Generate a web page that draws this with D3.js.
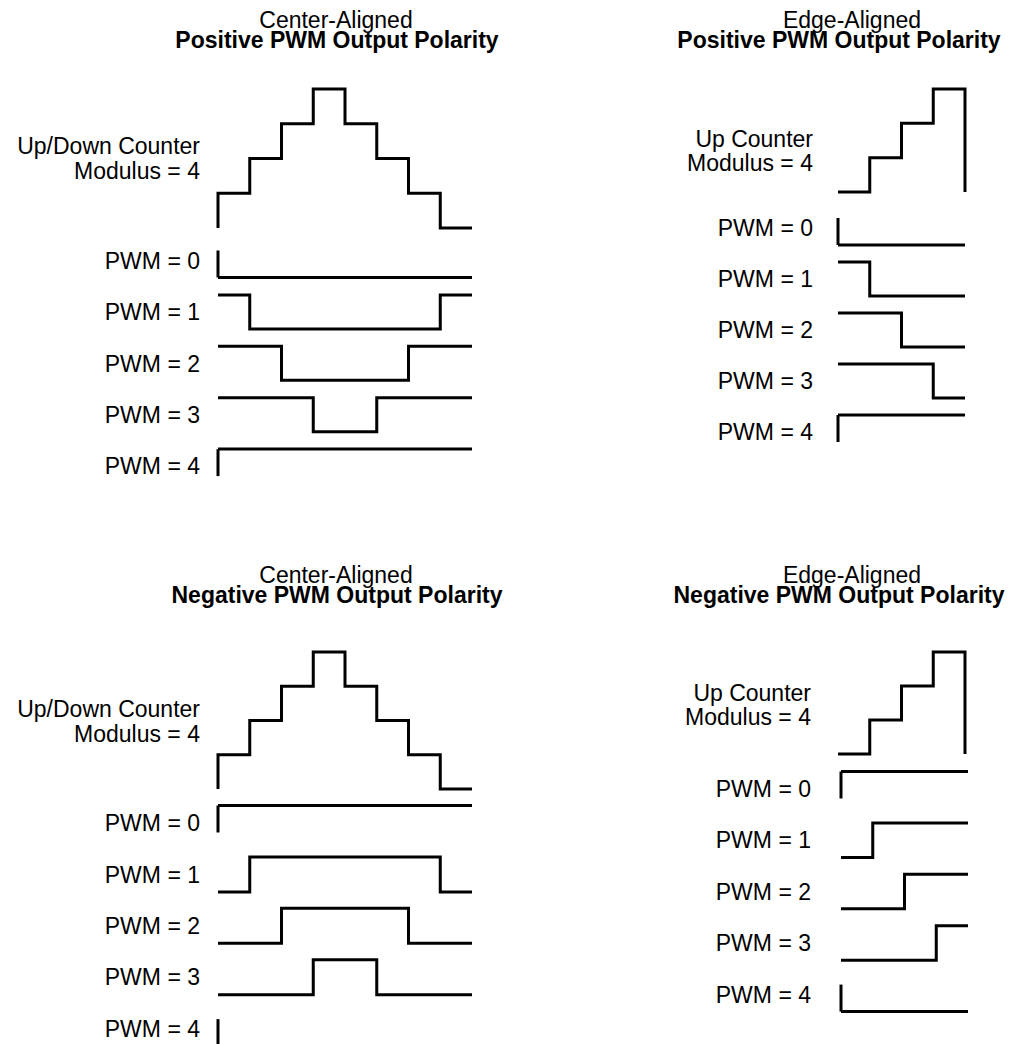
<!DOCTYPE html>
<html>
<head>
<meta charset="utf-8">
<script src="https://cdn.jsdelivr.net/npm/d3@7"></script>
<style>
  body { margin: 0; background: #fff; }
  svg { display: block; }
  text { font-family: "Liberation Sans", Arial, Helvetica, sans-serif; font-size: 23px; fill: #000; }
</style>
</head>
<body>
<div id="chart"></div>
<script>
// Counter levels, one value per time slot
var centerCounter = [1, 2, 3, 4, 3, 2, 1, 0];
var edgeCounter = [0, 1, 2, 3];

// PWM values shown in each panel
var pwmValues = [0, 1, 2, 3, 4];

// Output level per time slot (1 = high, 0 = low), one row per PWM value
var centerPositive = [
    [0, 0, 0, 0, 0, 0, 0, 0],
    [1, 0, 0, 0, 0, 0, 0, 1],
    [1, 1, 0, 0, 0, 0, 1, 1],
    [1, 1, 1, 0, 0, 1, 1, 1],
    [1, 1, 1, 1, 1, 1, 1, 1]
];
var centerNegative = [
    [1, 1, 1, 1, 1, 1, 1, 1],
    [0, 1, 1, 1, 1, 1, 1, 0],
    [0, 0, 1, 1, 1, 1, 0, 0],
    [0, 0, 0, 1, 1, 0, 0, 0],
    [0, 0, 0, 0, 0, 0, 0, 0]
];
var edgePositive = [
    [0, 0, 0, 0],
    [1, 0, 0, 0],
    [1, 1, 0, 0],
    [1, 1, 1, 0],
    [1, 1, 1, 1]
];
var edgeNegative = [
    [1, 1, 1, 1],
    [0, 1, 1, 1],
    [0, 0, 1, 1],
    [0, 0, 0, 1],
    [0, 0, 0, 0]
];

// Text
var modeTitles = ["Center-Aligned", "Edge-Aligned"];
var polarityTitles = ["Positive PWM Output Polarity", "Negative PWM Output Polarity"];
var centerCounterLabel = ["Up/Down Counter", "Modulus = 4"];
var edgeCounterLabel = ["Up Counter", "Modulus = 4"];

var width = 1026;
var height = 1044;
var tickLen = 27;

var svg = d3.select("#chart")
    .append("svg")
    .attr("width", width)
    .attr("height", height);

// Panel layout (pixels)
var panels = [
    { counter: centerCounter, rows: centerPositive, mode: 0, polarity: 0, counterLabel: centerCounterLabel,
      x0: 218, x1: 472, rowShift: 0, c0: 228, cTop: 89, rowTop: 243.5, rowGap: 51.4, amp: 34,
      labelX: 200, counterLabelY: [154, 179], titleX: [336, 337], titleY: [28, 48] },
    { counter: edgeCounter, rows: edgePositive, mode: 1, polarity: 0, counterLabel: edgeCounterLabel,
      x0: 838, x1: 965, rowShift: 0, c0: 192, cTop: 89, rowTop: 211, rowGap: 51, amp: 34,
      labelX: 813, counterLabelY: [147, 171], titleX: [852, 839], titleY: [28, 48] },
    { counter: centerCounter, rows: centerNegative, mode: 0, polarity: 1, counterLabel: centerCounterLabel,
      x0: 218, x1: 472, rowShift: 0, c0: 789, cTop: 652, rowTop: 805.5, rowGap: 51.4, amp: 35,
      labelX: 200, counterLabelY: [717, 742], titleX: [336, 337], titleY: [583, 603] },
    { counter: edgeCounter, rows: edgeNegative, mode: 1, polarity: 1, counterLabel: edgeCounterLabel,
      x0: 838, x1: 965, rowShift: 3, c0: 754, cTop: 652, rowTop: 771.5, rowGap: 51.4, amp: 34.5,
      labelX: 811, counterLabelY: [701, 725], titleX: [852, 839], titleY: [583, 603] }
];

var stepLine = d3.line()
    .curve(d3.curveStepAfter);

panels.forEach(function (p) {
    var g = svg.append("g");
    var n = p.counter.length;

    // Titles
    g.append("text")
        .attr("x", p.titleX[0])
        .attr("y", p.titleY[0])
        .attr("text-anchor", "middle")
        .text(modeTitles[p.mode]);
    g.append("text")
        .attr("x", p.titleX[1])
        .attr("y", p.titleY[1])
        .attr("text-anchor", "middle")
        .style("font-weight", "bold")
        .text(polarityTitles[p.polarity]);

    // Counter staircase
    var xScale = d3.scaleLinear().domain([0, n]).range([p.x0, p.x1]);
    var yCounter = d3.scaleLinear()
        .domain([0, d3.max(p.counter)])
        .range([p.c0, p.cTop]);

    var counterPts = [[0, 0]]
        .concat(p.counter.map(function (v, i) { return [i, v]; }))
        .concat([[n, 0]]);

    g.append("path")
        .attr("d", stepLine(counterPts.map(function (d) { return [xScale(d[0]), yCounter(d[1])]; })))
        .attr("fill", "none")
        .attr("stroke", "#000")
        .attr("stroke-width", 3)
        .attr("stroke-linejoin", "miter");

    g.selectAll(".clabel")
        .data(p.counterLabel)
        .enter()
        .append("text")
        .attr("x", p.labelX)
        .attr("y", function (d, i) { return p.counterLabelY[i]; })
        .attr("text-anchor", "end")
        .text(function (d) { return d; });

    // PWM output rows
    var xRow = d3.scaleLinear().domain([0, n]).range([p.x0 + p.rowShift, p.x1 + p.rowShift]);

    p.rows.forEach(function (row, r) {
        var high = p.rowTop + r * p.rowGap;
        var yRow = d3.scaleLinear().domain([0, 1]).range([high + p.amp, high]);

        var pts = row.map(function (v, i) { return [i, v]; }).concat([[n, row[n - 1]]]);
        g.append("path")
            .attr("d", stepLine(pts.map(function (d) { return [xRow(d[0]), yRow(d[1])]; })))
            .attr("fill", "none")
            .attr("stroke", "#000")
            .attr("stroke-width", 3);

        // Constant output: short edge mark at the start
        var constant = row.every(function (v) { return v === row[0]; });
        if (constant) {
            var yStart = yRow(row[0]);
            var yEnd = row[0] === 1 ? yStart + tickLen : yStart - tickLen;
            g.append("line")
                .attr("x1", xRow(0))
                .attr("x2", xRow(0))
                .attr("y1", yStart)
                .attr("y2", yEnd)
                .attr("stroke", "#000")
                .attr("stroke-width", 3);
        }

        g.append("text")
            .attr("x", p.labelX)
            .attr("y", high + p.amp / 2)
            .attr("dy", "0.36em")
            .attr("text-anchor", "end")
            .text("PWM = " + pwmValues[r]);
    });
});
</script>
</body>
</html>
